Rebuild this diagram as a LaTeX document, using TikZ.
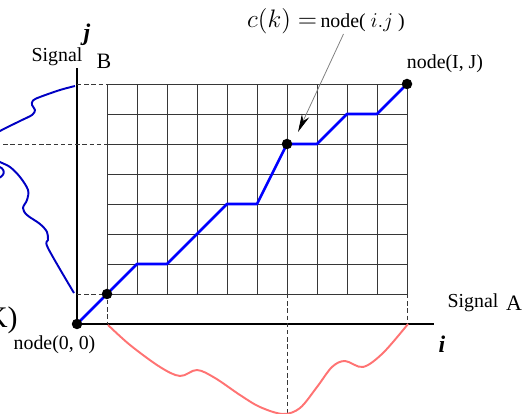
\documentclass[tikz,border=0pt]{standalone}
\usepackage{fontspec}
\setmainfont{Liberation Serif}
\usepackage{tikz}
\usetikzlibrary{arrows.meta, positioning, calc}
\definecolor{warpblue}{RGB}{0, 0, 255}
\definecolor{sigblue}{RGB}{0, 0, 195}
\definecolor{sigred}{RGB}{255, 115, 115}
\definecolor{gridgray}{RGB}{55, 55, 55}
\tikzset{
    dot/.style={circle, fill=black, inner sep=0pt, minimum size=2.1mm},
    guide/.style={gridgray, line width=0.5pt, dash pattern=on 2.5pt off 1.6pt},
    warp/.style={draw, warpblue, line width=1.5pt, line join=round},
    sig/.style={line width=1.1pt, line join=round},
    lbl/.style={font=\fontsize{11.3}{13}\selectfont, inner sep=0pt},
    big/.style={font=\fontsize{12.5}{14}\selectfont, inner sep=0pt},
    axlbl/.style={font=\fontsize{13.6}{16}\selectfont\bfseries\itshape, inner sep=0pt},
    pointer/.style={draw, gray, line width=0.45pt, -{Stealth[length=3.6mm, width=1.6mm, black]}}
}

\begin{document}
\begin{tikzpicture}[x=0.6cm, y=0.6cm]

    % --- FRAME ---
    \clip (-2.567,-2.967) rectangle (15.1,10.8);

    % --- GRID AND AXES ---
    \draw[gridgray, line width=0.55pt, step=0.6cm] (1,1) grid (11,8);
    \draw[line width=0.6pt] (0,8.53) -- (0,0) -- (11.9,0);

    % projection lines
    \draw[guide] (0,8) -- (1,8);
    \draw[guide] (-2.7,6) -- (1,6);
    \draw[guide] (0,1) -- (1,1) -- (1,0);
    \draw[guide] (7,1) -- (7,-3.1);
    \draw[guide] (11,1) -- (11,0);

    % --- WARPING PATH ---
    \coordinate (c00) at (0,0);
    \coordinate (c11) at (1,1);
    \coordinate (cij) at (7,6);
    \coordinate (cIJ) at (11,8);
    \draw[warp] plot coordinates {(c00) (c11) (2,2) (3,2) (5,4) (6,4) (cij) (8,6) (9,7) (10,7) (cIJ)};
    \node[dot] (n00) at (c00) {};
    \node[dot] (n11) at (c11) {};
    \node[dot] (nij) at (cij) {};
    \node[dot] (nIJ) at (cIJ) {};

    % --- SIGNAL B (vertical) ---
    \draw[sig, sigblue] plot[smooth, tension=0.55] coordinates {
        (-0.067,7.933) (-0.567,7.8) (-1.233,7.567) (-1.467,7.45) (-1.5,7.3)
        (-1.4,7.133) (-1.5,6.967) (-1.9,6.767) (-2.567,6.433) (-2.9,6.2)};
    \draw[sig, sigblue] (-2.7,5.27) .. controls (-2.38,5.22) and (-2.35,4.95) .. (-2.65,4.85);
    \draw[sig, sigblue] plot[smooth, tension=0.55] coordinates {
        (-2.9,5.6) (-2.567,5.4) (-2.233,5.233) (-1.9,4.9) (-1.633,4.467)
        (-1.667,4.133) (-1.8,3.867) (-1.667,3.633) (-1.233,3.333) (-1,3.067)
        (-0.967,2.8) (-0.967,2.533) (-0.1,1.033)};

    % --- SIGNAL A (horizontal) ---
    \draw[sig, sigred] plot[smooth, tension=0.55] coordinates {
        (1.033,-0.033) (1.767,-0.7) (2.767,-1.433) (3.433,-1.733) (4,-1.533)
        (4.6,-1.8) (5.433,-2.367) (6.1,-2.767) (6.867,-3.0) (7.433,-2.8)
        (8,-2.1) (8.5,-1.433) (8.933,-1.233) (9.533,-1.433) (10.2,-0.967) (11.033,0)};

    % --- LABELS ---
    \node[axlbl] (labj) at (0.333,9.63) {j};
    \node[axlbl] (labi) at (12.167,-0.667) {i};
    \node[lbl] (sigB) at (-0.667,8.9) {Signal};
    \node[big] (labB) at (0.9,8.77) {B};
    \node[lbl] (sigA) at (13.2,0.7) {Signal};
    \node[big] (labA) at (14.567,0.7) {A};
    \node[lbl] (lab00) at (-0.75,-0.7) {node(0, 0)};
    \node[lbl] (labIJ) at (12.267,8.667) {node(I, J)};
    \node[font=\fontsize{17}{20}\selectfont, anchor=east, inner sep=0pt] (labK) at (-1.967,0.13) {K)};
    \node[inner sep=0pt] (ck) at (8.3,10.1)
        {\fontsize{13.6}{16}\selectfont$c(k) =$\fontsize{11.3}{13}\selectfont\,node(\ \fontsize{13}{15}\selectfont$i.j$\fontsize{11.3}{13}\selectfont\ )};
    \coordinate (tip) at (7.367,6.4);
    \draw[pointer] ([xshift=0.35cm]ck.south) -- (tip);

\end{tikzpicture}
\end{document}
